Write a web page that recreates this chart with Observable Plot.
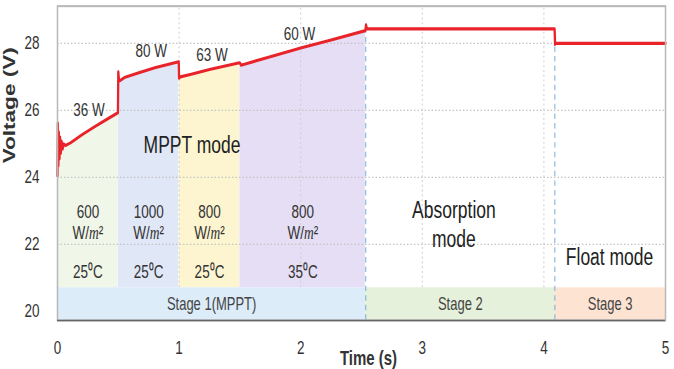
<!DOCTYPE html>
<html>
<head>
<meta charset="utf-8">
<script src="https://cdn.jsdelivr.net/npm/d3@7"></script>
<script src="https://cdn.jsdelivr.net/npm/@observablehq/plot@0.6"></script>
<style>
  body { margin: 0; background: #fff; }
  #chart svg { display: block; }
</style>
</head>
<body>
<div id="chart"></div>
<script>
// Battery charger output voltage over time (s)
const time = [
  0.000, 0.003, 0.007, 0.011, 0.016, 0.021, 0.027, 0.034, 0.042, 0.052, 0.065,
  0.107, 0.20, 0.30, 0.40, 0.497,
  0.500, 0.506, 0.52, 0.55, 0.65, 0.80, 0.997,
  1.000, 1.01, 1.10, 1.25, 1.497,
  1.500, 1.51, 1.53, 1.75, 2.00, 2.25, 2.532,
  2.537, 2.545, 4.088,
  4.092, 4.10, 5.00
];
const voltage = [
  24.05, 25.62, 24.35, 25.35, 24.55, 25.20, 24.72, 25.08, 24.85, 25.00, 24.95,
  25.03, 25.27, 25.50, 25.72, 25.93,
  27.15, 26.88, 26.90, 26.98, 27.10, 27.27, 27.45,
  26.96, 27.00, 27.08, 27.22, 27.42,
  27.41, 27.35, 27.37, 27.60, 27.86, 28.10, 28.38,
  28.55, 28.43, 28.43,
  27.97, 28.00, 28.00
];

// MPPT operating steps
const stepStart = [0, 0.5, 1.0, 1.5];
const stepEnd = [0.5, 1.0, 1.5, 2.535];
const irradiance = ["600", "1000", "800", "800"];
const temperature = ["25⁰C", "25⁰C", "25⁰C", "35⁰C"];
const power = ["36 W", "80 W", "63 W", "60 W"];

// Charging stages
const stageNames = ["Stage 1(MPPT)", "Stage 2", "Stage 3"];
const stageStart = [0, 2.535, 4.09];
const stageEnd = [2.535, 4.09, 5];

const xTicks = [0, 1, 2, 3, 4, 5];
const yTicks = [20, 22, 24, 26, 28];

// styling
const stepFill = ["#f0f7e8", "#e0e7f7", "#fdf5d0", "#e5def5"];
const stageFill = ["#dcecf9", "#e5f1da", "#fce3d2"];
const yMin = 19.73, yMax = 29.11, barTop = 20.7;
const ink = "#333";
// the drawing is laid out at 270px and stretched to the 369px page height
const drawHeight = 270, pageHeight = 369;

const points = time.map((t, i) => ({t, v: voltage[i]}));
const steps = stepStart.map((s, i) => ({
  start: s, end: stepEnd[i], mid: (s + stepEnd[i]) / 2,
  irr: irradiance[i], temp: temperature[i], power: power[i], fill: stepFill[i]
}));
const stages = stageNames.map((name, i) => ({
  name, start: stageStart[i], end: stageEnd[i], mid: (stageStart[i] + stageEnd[i]) / 2, fill: stageFill[i]
}));
const voltageAt = t => points.reduce((a, b) => Math.abs(b.t - t) < Math.abs(a.t - t) ? b : a).v;
const powerAnchor = [[0.26, 26.02], [0.77, 27.78], [1.27, 27.66], [1.99, 28.29]];

const chart = Plot.plot({
  width: 674,
  height: drawHeight,
  marginLeft: 57,
  marginRight: 9,
  marginTop: 4,
  marginBottom: 36,
  style: {fontFamily: "'Liberation Sans', Arial, sans-serif", fontSize: "13.5px", color: ink, background: "#fff"},
  color: {type: "identity"},
  x: {domain: [0, 5], ticks: xTicks, tickSize: 0, tickPadding: 15, label: null, tickFormat: d => String(d)},
  y: {domain: [yMin, yMax], ticks: yTicks, tickSize: 0, tickPadding: 18, label: null, tickFormat: d => String(d)},
  marks: [
    // shaded operating steps under the voltage curve
    ...steps.map(s => Plot.areaY(points.filter(p => p.t >= s.start && p.t < s.end),
      {x: "t", y1: barTop, y2: "v", fill: s.fill})),
    // stage bands along the bottom
    Plot.rect(stages, {x1: "start", x2: "end", y1: yMin, y2: barTop, fill: "fill"}),
    // dotted grid
    Plot.ruleY([22, 24, 26, 28], {stroke: "#c4c4c4", strokeDasharray: "1.5,2"}),
    Plot.ruleX([1, 2, 3, 4], {y1: barTop, y2: yMax, stroke: "#cfcfcf", strokeDasharray: "1.5,2"}),
    // stage boundaries
    Plot.ruleX([stageStart[1], stageStart[2]], {
      y1: yMin, y2: t => voltageAt(t) - 0.05, stroke: "#78aed6", strokeWidth: 1, strokeDasharray: "4,3"
    }),
    // voltage trace
    Plot.line(points, {x: "t", y: "v", stroke: "#e8232a", strokeWidth: 2.3}),
    // power labels
    Plot.text(steps, {x: (d, i) => powerAnchor[i][0], y: (d, i) => powerAnchor[i][1], text: "power", fontSize: 13.5, fill: ink}),
    // step conditions
    Plot.text(steps, {x: "mid", y: 22.97, text: "irr", fontSize: 13.5, fill: ink}),
    Plot.text(steps, {x: "mid", y: 22.35, text: () => "W/m²", fontSize: 13.5, fill: ink}),
    Plot.text(steps, {x: "mid", y: 21.16, text: "temp", fontSize: 13.5, fill: ink}),
    // stage labels
    Plot.text(stages, {x: "mid", y: (yMin + barTop) / 2, text: "name", fontSize: 13, fill: "#444"}),
    // mode labels
    Plot.text(["MPPT mode"], {x: 1.106, y: 24.95, text: d => d, fontSize: 17.5, fill: "#222"}),
    Plot.text(["Absorption\nmode"], {x: 3.26, y: 22.63, text: d => d, fontSize: 17.5, lineHeight: 1.21, fill: "#222"}),
    Plot.text(["Float mode"], {x: 4.54, y: 21.6, text: d => d, fontSize: 17.5, fill: "#222"}),
    // axis titles
    Plot.text(["Voltage (V)"], {frameAnchor: "left", dx: -48, rotate: -90, text: d => d, fontSize: 16.5, fontWeight: "bold", fill: ink}),
    Plot.text(["Time (s)"], {frameAnchor: "bottom", dx: 7, dy: 32.5, text: d => d, fontSize: 15, fontWeight: "bold", fill: ink}),
    // plot border
    Plot.frame({stroke: "#b8b8b8", strokeWidth: 1.5}),
    Plot.ruleY([yMin], {stroke: "#666", strokeWidth: 1.2})
  ]
});

// italic unit symbol in the irradiance labels
d3.select(chart).selectAll("text").filter(function () { return this.textContent === "W/m²"; })
  .each(function () {
    const el = d3.select(this);
    el.text(null);
    el.append("tspan").text("W/");
    el.append("tspan").attr("font-style", "italic").attr("font-family", "'Liberation Serif', serif").text("m");
    el.append("tspan").text("²");
  });

// stretch the drawing vertically to the page height
chart.setAttribute("viewBox", `0 0 674 ${drawHeight}`);
chart.setAttribute("height", pageHeight);
chart.setAttribute("preserveAspectRatio", "none");
chart.style.height = pageHeight + "px";
chart.style.width = "674px";

document.getElementById("chart").append(chart);
</script>
</body>
</html>
